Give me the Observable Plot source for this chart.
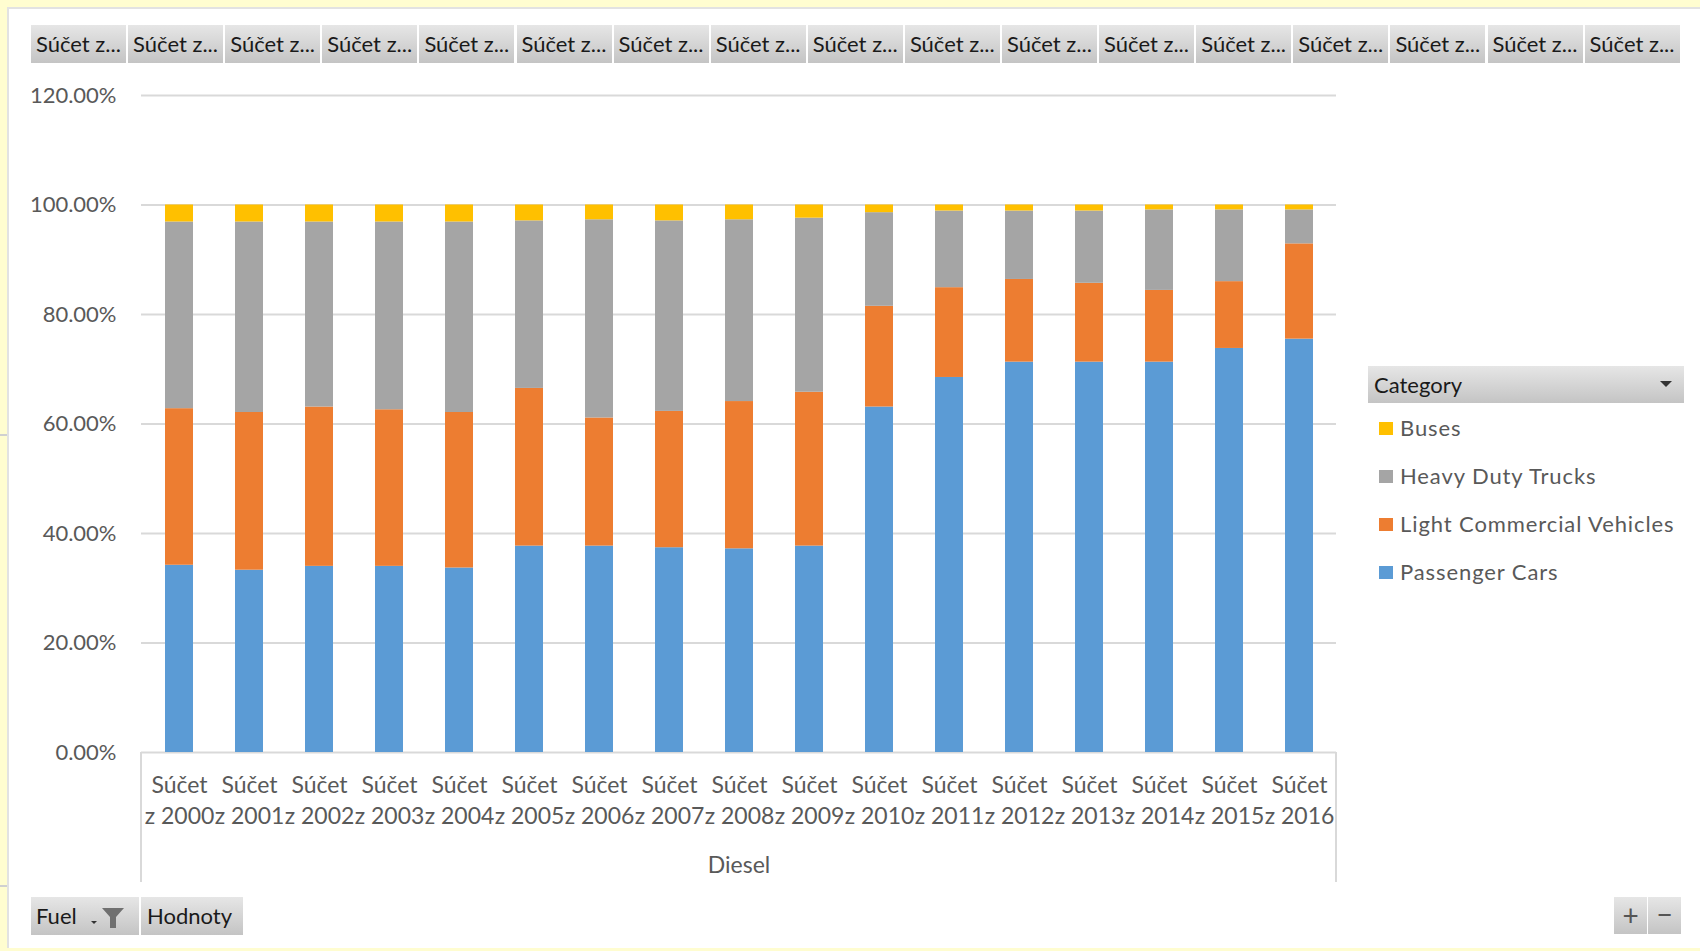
<!DOCTYPE html>
<html>
<head>
<meta charset="utf-8">
<script src="https://cdn.jsdelivr.net/npm/d3@7"></script>
<script src="https://cdn.jsdelivr.net/npm/@observablehq/plot@0.6"></script>
<style>
  html, body { margin: 0; padding: 0; background: #ffffff; }
  body { width: 1700px; height: 951px; position: relative; overflow: hidden; font-family: Lato, "Open Sans", sans-serif; }
  .abs { position: absolute; }
  .btn { position: absolute; box-sizing: border-box; background: linear-gradient(#e6e6e6, #c4c4c4); color: #1a1a1a; font-size: 22px; line-height: 38px; white-space: nowrap; overflow: hidden; }
  #chart { position: absolute; left: 0; top: 0; }
  .leg-item { position: absolute; left: 1379px; font-size: 22px; color: #595959; letter-spacing: 0.9px; }
  .leg-sw { position: absolute; width: 14px; height: 13px; }
</style>
</head>
<body>
<div class="abs" style="left:0;top:0;width:1700px;height:7px;background:#fffdd0"></div>
<div class="abs" style="left:0;top:7px;width:1700px;height:2px;background:#e2e2e2"></div>
<div class="abs" style="left:0;top:0;width:7px;height:951px;background:#fffdd0"></div>
<div class="abs" style="left:7px;top:7px;width:2px;height:944px;background:#e2e2e2"></div>
<div class="abs" style="left:0;top:434px;width:7px;height:2px;background:#d0d0d0"></div>
<div class="abs" style="left:0;top:885px;width:7px;height:2px;background:#d0d0d0"></div>
<div class="abs" style="left:0;top:948px;width:1700px;height:3px;background:#fffdd0"></div>
<div id="chart"></div>
<div id="overlay"></div>
<script>
// ---- data ----
const years = [2000, 2001, 2002, 2003, 2004, 2005, 2006, 2007, 2008, 2009, 2010, 2011, 2012, 2013, 2014, 2015, 2016];
const categories = ["Passenger Cars", "Light Commercial Vehicles", "Heavy Duty Trucks", "Buses"];
const passengerCars = [34.2, 33.3, 34.0, 34.0, 33.7, 37.7, 37.7, 37.4, 37.2, 37.7, 63.1, 68.5, 71.3, 71.3, 71.3, 73.8, 75.5];
const lightCommercial = [28.6, 28.8, 29.1, 28.6, 28.4, 28.8, 23.4, 24.9, 26.9, 28.1, 18.4, 16.4, 15.1, 14.4, 13.1, 12.2, 17.4];
const heavyDutyTrucks = [34.1, 34.8, 33.8, 34.3, 34.8, 30.6, 36.2, 34.8, 33.2, 31.8, 17.1, 14.0, 12.5, 13.2, 14.7, 13.1, 6.2];
const buses = [3.1, 3.1, 3.1, 3.1, 3.1, 2.9, 2.7, 2.9, 2.7, 2.4, 1.4, 1.1, 1.1, 1.1, 0.9, 0.9, 0.9];
const colors = ["#5B9BD5", "#ED7D31", "#A5A5A5", "#FFC000"];
const yTicks = [0, 0.2, 0.4, 0.6, 0.8, 1.0, 1.2];
const legendOrder = ["Buses", "Heavy Duty Trucks", "Light Commercial Vehicles", "Passenger Cars"];
const headerLabel = "Súčet z...";
const xLinePrefix = "Súčet";
const groupLabel = "Diesel";
const legendTitle = "Category";

const series = [passengerCars, lightCommercial, heavyDutyTrucks, buses];
const rows = [];
years.forEach((yr, i) => {
  categories.forEach((c, j) => rows.push({year: yr, category: c, value: series[j][i] / 100}));
});

const chart = Plot.plot({
  width: 1700,
  height: 951,
  marginLeft: 141,
  marginRight: 364,
  marginTop: 95,
  marginBottom: 199,
  style: {fontFamily: "Lato, 'Open Sans', sans-serif", fontSize: "22px", color: "#595959", background: "transparent", overflow: "visible"},
  x: {domain: years, axis: null, paddingInner: 0.6, paddingOuter: 0.3},
  y: {domain: [0, 1.2]},
  color: {domain: categories, range: colors},
  marks: [
    Plot.ruleY(yTicks, {stroke: "#d9d9d9", strokeWidth: 2}),
    Plot.barY(rows, {x: "year", y: "value", fill: "category"}),
    Plot.axisY({ticks: yTicks, tickFormat: d3.format(".2%"), tickSize: 0, tickPadding: 25, fontSize: 22, fill: "#595959", label: null}),
    Plot.text(years, {x: d => d, text: () => xLinePrefix, frameAnchor: "bottom", dy: 40, fontSize: 23, fill: "#595959"}),
    Plot.text(years, {x: d => d, text: d => "z " + d, frameAnchor: "bottom", dy: 71, fontSize: 23, fill: "#595959"}),
    Plot.text([groupLabel], {text: d => d, frameAnchor: "bottom", dy: 120, fontSize: 23, fill: "#595959"})
  ]
});
document.getElementById("chart").appendChild(chart);

// ---- overlay decorations (pivot buttons, legend) ----
const ov = document.getElementById("overlay");
function add(html) { ov.insertAdjacentHTML("beforeend", html); }

// header pivot field buttons
years.forEach((yr, i) => {
  const left = 31 + i * 97.1;
  add(`<div class="btn" style="left:${left}px;top:25px;width:95px;height:38px;padding-left:5px;">${headerLabel}</div>`);
});

// axis separator lines below the category axis
add(`<div class="abs" style="left:140px;top:752px;width:2px;height:130px;background:#d9d9d9"></div>`);
add(`<div class="abs" style="left:1335px;top:752px;width:2px;height:130px;background:#d9d9d9"></div>`);

// legend
add(`<div class="btn" style="left:1368px;top:366px;width:316px;height:37px;padding-left:6px;line-height:37px;">${legendTitle}
  <svg style="position:absolute;left:292px;top:15px" width="12" height="7"><path d="M0,0 L12,0 L6,6 Z" fill="#333"/></svg></div>`);
legendOrder.forEach((name, k) => {
  const c = colors[categories.indexOf(name)];
  const cy = 428 + k * 48;
  add(`<div class="leg-sw" style="left:1379px;top:${cy - 6}px;background:${c}"></div>`);
  add(`<div class="leg-item" style="left:1400px;top:${cy - 14}px;line-height:28px;">${name}</div>`);
});

// bottom-left buttons
add(`<div class="btn" style="left:31px;top:897px;width:108px;height:38px;padding-left:5px;">Fuel
  <svg style="position:absolute;left:58px;top:8px" width="44" height="24">
    <path d="M2,16 L8,16 L5,19 Z" fill="#333"/>
    <path d="M13,3 L35,3 L27,12 L27,23 L21,23 L21,12 Z" fill="#707070"/>
  </svg></div>`);
add(`<div class="btn" style="left:141px;top:897px;width:102px;height:38px;padding-left:6px;">Hodnoty</div>`);

// zoom buttons
add(`<div class="btn" style="left:1614px;top:897px;width:33px;height:37px;text-align:center;color:#555;font-size:28px;line-height:36px;">+</div>`);
add(`<div class="btn" style="left:1648px;top:897px;width:33px;height:37px;text-align:center;color:#555;font-size:28px;line-height:34px;">&#8722;</div>`);
</script>
</body>
</html>
